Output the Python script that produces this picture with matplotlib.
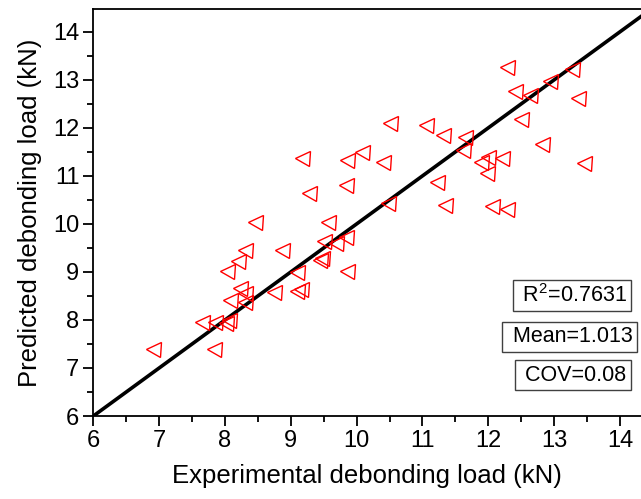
import numpy as np
import matplotlib
matplotlib.use('Agg')
import matplotlib.pyplot as plt
from matplotlib.ticker import MultipleLocator

plt.rcParams['font.family'] = ['Liberation Sans', 'DejaVu Sans']
plt.rcParams['mathtext.fontset'] = 'custom'
plt.rcParams['mathtext.rm'] = 'Liberation Sans'

# Data (kN)
exp_load = [6.90, 7.84, 7.65, 7.85, 8.02, 8.06, 8.08, 8.31, 8.23, 8.31,
            8.75, 8.03, 8.20, 8.31, 8.45, 8.87, 9.09, 9.10, 9.16, 9.45,
            9.48, 9.50, 9.69, 9.84, 9.86, 9.57, 9.28, 9.84, 9.17, 9.85,
            10.08, 10.40, 10.48, 10.51, 11.05, 11.31, 11.22, 11.35, 11.65, 11.62,
            11.89, 11.99, 12.21, 11.98, 12.05, 12.28, 12.50, 12.28, 12.41, 12.63,
            12.94, 13.27, 13.36, 12.82, 13.46]
pred_load = [7.40, 7.40, 7.95, 7.95, 7.93, 8.00, 8.42, 8.38, 8.66, 8.56,
             8.59, 9.02, 9.23, 9.46, 10.03, 9.45, 8.99, 8.60, 8.64, 9.25,
             9.29, 9.64, 9.60, 9.73, 9.02, 10.03, 10.65, 10.82, 11.38, 11.33,
             11.49, 11.30, 10.44, 12.10, 12.07, 11.85, 10.87, 10.40, 11.82, 11.53,
             11.30, 11.40, 11.38, 11.07, 10.37, 10.31, 12.19, 13.26, 12.76, 12.69,
             12.98, 13.22, 12.63, 11.66, 11.26]
ref_line = [6, 14.6]
stats = [r'R$^{2}$=0.7631', 'Mean=1.013', 'COV=0.08']

fig = plt.figure(figsize=(6.41, 4.99), dpi=100)
ax = fig.add_axes([0.1456, 0.1663, 0.8544, 0.8151])

ax.plot(ref_line, ref_line, color='black', lw=2.6, zorder=2)
ax.plot(exp_load, pred_load, ls='none', marker='<', ms=10.8, mfc='none',
        mec='#ff0000', mew=1.0, zorder=3)

ax.set_xlim(6, 14.32)
ax.set_ylim(6, 14.47)
ax.xaxis.set_major_locator(MultipleLocator(1))
ax.xaxis.set_minor_locator(MultipleLocator(0.5))
ax.yaxis.set_major_locator(MultipleLocator(1))
ax.yaxis.set_minor_locator(MultipleLocator(0.5))
ax.tick_params(which='both', direction='out', width=1.3, labelsize=17)
ax.tick_params(which='major', length=7, pad=3)
ax.tick_params(which='minor', length=4)
ax.spines['right'].set_visible(False)
for s in ['left', 'bottom', 'top']:
    ax.spines[s].set_linewidth(1.3)

ax.set_xlabel('Experimental debonding load (kN)', fontsize=18.5, labelpad=9)
ax.set_ylabel('Predicted debonding load (kN)', fontsize=18.5, labelpad=8)

# statistics boxes
box_x = [14.11, 14.19, 14.10]
box_y = [8.51, 7.65, 6.85]
for txt, bx, by in zip(stats, box_x, box_y):
    ax.text(bx, by, ' ' + txt, ha='right', va='center', fontsize=15.5,
            bbox=dict(boxstyle='square,pad=0.2', fc='white', ec='#404040', lw=1.0))

fig.savefig('out.png', dpi=100)
